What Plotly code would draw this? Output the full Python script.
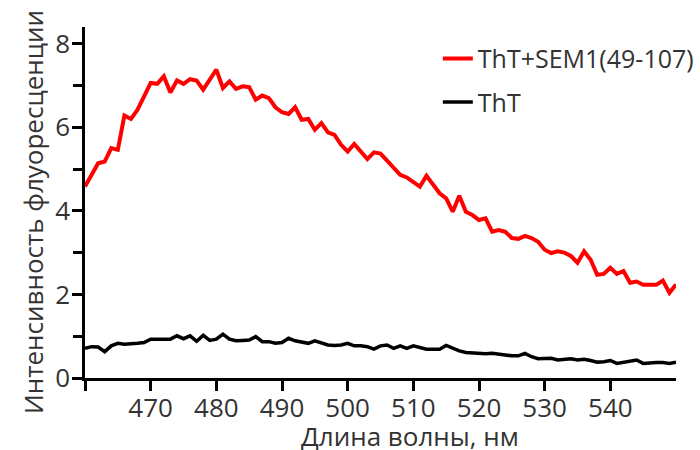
import plotly.graph_objects as go

# Emission wavelengths, nm
wavelength = list(range(460, 551))

# ThT fluorescence with SEM1(49-107)
tht_sem1 = [
    4.58, 4.88, 5.14, 5.18, 5.50, 5.46, 6.28, 6.20, 6.42, 6.74,
    7.06, 7.04, 7.22, 6.83, 7.12, 7.04, 7.15, 7.12, 6.90, 7.14,
    7.38, 6.94, 7.10, 6.92, 6.98, 6.96, 6.66, 6.76, 6.70, 6.48,
    6.36, 6.32, 6.48, 6.18, 6.20, 5.94, 6.10, 5.88, 5.82, 5.58,
    5.42, 5.60, 5.42, 5.24, 5.40, 5.37, 5.20, 5.02, 4.86, 4.80,
    4.68, 4.58, 4.84, 4.62, 4.42, 4.30, 3.98, 4.36, 3.98, 3.90,
    3.78, 3.82, 3.50, 3.54, 3.50, 3.35, 3.33, 3.40, 3.35, 3.26,
    3.07, 2.99, 3.03, 3.00, 2.92, 2.76, 3.03, 2.83, 2.47, 2.49,
    2.64, 2.49, 2.56, 2.28, 2.31, 2.23, 2.24, 2.23, 2.33, 2.04,
    2.24,
]

# ThT alone
tht = [
    0.71, 0.75, 0.74, 0.63, 0.77, 0.83, 0.81, 0.81, 0.83, 0.85,
    0.93, 0.93, 0.92, 0.93, 1.01, 0.94, 1.01, 0.88, 1.02, 0.90,
    0.93, 1.05, 0.93, 0.89, 0.90, 0.91, 0.99, 0.87, 0.87, 0.83,
    0.85, 0.95, 0.89, 0.85, 0.83, 0.89, 0.85, 0.79, 0.78, 0.79,
    0.83, 0.77, 0.77, 0.75, 0.69, 0.77, 0.79, 0.71, 0.77, 0.71,
    0.77, 0.73, 0.69, 0.69, 0.69, 0.78, 0.71, 0.65, 0.61, 0.60,
    0.57, 0.58, 0.59, 0.56, 0.55, 0.53, 0.53, 0.59, 0.51, 0.46,
    0.46, 0.47, 0.43, 0.45, 0.46, 0.43, 0.45, 0.42, 0.38, 0.39,
    0.42, 0.35, 0.38, 0.39, 0.43, 0.35, 0.37, 0.37, 0.37, 0.35,
    0.38,
]

x_tickvals = [460, 470, 480, 490, 500, 510, 520, 530, 540]
x_ticktext = ["", "470", "480", "490", "500", "510", "520", "530", "540"]
y_tickvals = [0, 2, 4, 6, 8]
y_minor_tickvals = [1, 3, 5, 7]

FONT = "Open Sans"
TXT = "#333333"

fig = go.Figure()
fig.add_trace(go.Scatter(
    x=wavelength, y=tht_sem1, mode="lines", name="ThT+SEM1(49-107)",
    legendgroup="a", line=dict(color="#ff0000", width=4),
))
fig.add_trace(go.Scatter(
    x=wavelength, y=tht, mode="lines", name="ThT",
    legendgroup="b", line=dict(color="#000000", width=3.5),
))

fig.update_layout(
    width=700, height=450,
    margin=dict(l=85, r=24, t=27, b=72, autoexpand=False),
    paper_bgcolor="white", plot_bgcolor="white",
    font=dict(family=FONT, size=26, color=TXT),
    showlegend=True,
    legend=dict(
        x=0.597, y=0.975, xanchor="left", yanchor="top",
        bgcolor="rgba(0,0,0,0)", font=dict(size=25, color=TXT),
        tracegroupgap=8, itemwidth=30,
    ),
    xaxis=dict(
        range=[460, 550], showgrid=False, zeroline=False,
        showline=True, linecolor="black", linewidth=2.5,
        ticks="outside", ticklen=10, tickwidth=2.5, tickcolor="black",
        tickvals=x_tickvals, ticktext=x_ticktext,
        tickfont=dict(size=26, color=TXT), ticklabelstandoff=-5,
    ),
    yaxis=dict(
        range=[0, 8.4], showgrid=False, zeroline=False,
        showline=True, linecolor="black", linewidth=2.5,
        ticks="outside", ticklen=10, tickwidth=2.5, tickcolor="black",
        tickvals=y_tickvals, tickfont=dict(size=26, color=TXT),
        ticklabelstandoff=-3,
        minor=dict(tickvals=y_minor_tickvals, ticks="outside", ticklen=9,
                   tickwidth=2.5, tickcolor="black", showgrid=False),
    ),
    annotations=[
        dict(text="Длина волны, нм", xref="paper", yref="paper",
             x=0.55, y=-0.108, xanchor="center", yanchor="top",
             showarrow=False, font=dict(size=26, color=TXT)),
        dict(text="Интенсивность флуоресценции", xref="paper", yref="paper",
             x=-0.088, y=0.473, xanchor="center", yanchor="middle",
             textangle=-90, showarrow=False, font=dict(size=26, color=TXT)),
    ],
)

fig.write_html("out.html")
